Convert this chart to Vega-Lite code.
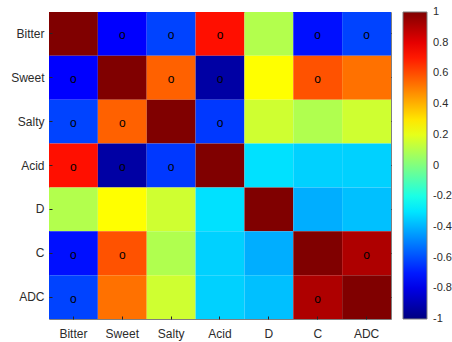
{
  "$schema": "https://vega.github.io/schema/vega-lite/v6.json",
  "width": 342,
  "height": 307,
  "autosize": {"type": "none"},
  "padding": {"left": 49, "top": 12, "right": 61, "bottom": 23},
  "config": {
    "view": {"stroke": "#7f7f7f", "strokeWidth": 1},
    "font": "Liberation Sans",
    "axis": {
      "labelFont": "Liberation Sans",
      "labelFontSize": 12,
      "labelColor": "#2b2b2b",
      "domain": false,
      "grid": false,
      "tickColor": "#262626",
      "tickSize": -3,
      "tickWidth": 1,
      "title": null
    },
    "legend": {
      "labelFont": "Liberation Sans",
      "labelFontSize": 11,
      "labelColor": "#2b2b2b",
      "padding": 0
    }
  },
  "datasets": {
    "corr": [
      {"row": "Bitter", "col": "Bitter", "v": 1, "sig": false},
      {"row": "Bitter", "col": "Sweet", "v": -0.75, "sig": true},
      {"row": "Bitter", "col": "Salty", "v": -0.62, "sig": true},
      {"row": "Bitter", "col": "Acid", "v": 0.72, "sig": true},
      {"row": "Bitter", "col": "D", "v": 0.1, "sig": false},
      {"row": "Bitter", "col": "C", "v": -0.72, "sig": true},
      {"row": "Bitter", "col": "ADC", "v": -0.62, "sig": true},
      {"row": "Sweet", "col": "Bitter", "v": -0.75, "sig": true},
      {"row": "Sweet", "col": "Sweet", "v": 1, "sig": false},
      {"row": "Sweet", "col": "Salty", "v": 0.56, "sig": true},
      {"row": "Sweet", "col": "Acid", "v": -0.93, "sig": true},
      {"row": "Sweet", "col": "D", "v": 0.25, "sig": false},
      {"row": "Sweet", "col": "C", "v": 0.59, "sig": true},
      {"row": "Sweet", "col": "ADC", "v": 0.53, "sig": false},
      {"row": "Salty", "col": "Bitter", "v": -0.62, "sig": true},
      {"row": "Salty", "col": "Sweet", "v": 0.56, "sig": true},
      {"row": "Salty", "col": "Salty", "v": 1, "sig": false},
      {"row": "Salty", "col": "Acid", "v": -0.64, "sig": true},
      {"row": "Salty", "col": "D", "v": 0.155, "sig": false},
      {"row": "Salty", "col": "C", "v": 0.095, "sig": false},
      {"row": "Salty", "col": "ADC", "v": 0.155, "sig": false},
      {"row": "Acid", "col": "Bitter", "v": 0.72, "sig": true},
      {"row": "Acid", "col": "Sweet", "v": -0.93, "sig": true},
      {"row": "Acid", "col": "Salty", "v": -0.64, "sig": true},
      {"row": "Acid", "col": "Acid", "v": 1, "sig": false},
      {"row": "Acid", "col": "D", "v": -0.31, "sig": false},
      {"row": "Acid", "col": "C", "v": -0.34, "sig": false},
      {"row": "Acid", "col": "ADC", "v": -0.34, "sig": false},
      {"row": "D", "col": "Bitter", "v": 0.1, "sig": false},
      {"row": "D", "col": "Sweet", "v": 0.25, "sig": false},
      {"row": "D", "col": "Salty", "v": 0.155, "sig": false},
      {"row": "D", "col": "Acid", "v": -0.31, "sig": false},
      {"row": "D", "col": "D", "v": 1, "sig": false},
      {"row": "D", "col": "C", "v": -0.41, "sig": false},
      {"row": "D", "col": "ADC", "v": -0.375, "sig": false},
      {"row": "C", "col": "Bitter", "v": -0.72, "sig": true},
      {"row": "C", "col": "Sweet", "v": 0.59, "sig": true},
      {"row": "C", "col": "Salty", "v": 0.095, "sig": false},
      {"row": "C", "col": "Acid", "v": -0.34, "sig": false},
      {"row": "C", "col": "D", "v": -0.41, "sig": false},
      {"row": "C", "col": "C", "v": 1, "sig": false},
      {"row": "C", "col": "ADC", "v": 0.91, "sig": true},
      {"row": "ADC", "col": "Bitter", "v": -0.62, "sig": true},
      {"row": "ADC", "col": "Sweet", "v": 0.53, "sig": false},
      {"row": "ADC", "col": "Salty", "v": 0.155, "sig": false},
      {"row": "ADC", "col": "Acid", "v": -0.34, "sig": false},
      {"row": "ADC", "col": "D", "v": -0.375, "sig": false},
      {"row": "ADC", "col": "C", "v": 0.91, "sig": true},
      {"row": "ADC", "col": "ADC", "v": 1, "sig": false}
    ]
  },
  "data": {"name": "corr"},
  "resolve": {"axis": {"x": "independent", "y": "independent"}},
  "layer": [
    {
      "mark": {"type": "rect", "strokeWidth": 0},
      "encoding": {
        "x": {
          "field": "col", "type": "nominal",
          "sort": ["Bitter", "Sweet", "Salty", "Acid", "D", "C", "ADC"],
          "scale": {"paddingInner": 0, "paddingOuter": 0},
          "axis": {"orient": "bottom", "labelAngle": 0, "labelPadding": 12}
        },
        "y": {
          "field": "row", "type": "nominal",
          "sort": ["Bitter", "Sweet", "Salty", "Acid", "D", "C", "ADC"],
          "scale": {"paddingInner": 0, "paddingOuter": 0},
          "axis": {"orient": "left", "labelPadding": 8}
        },
        "color": {
          "field": "v", "type": "quantitative",
          "scale": {
            "domain": [-1, 1],
            "range": ["#000080", "#0000ff", "#0080ff", "#00ffff", "#80ff80", "#ffff00", "#ff8000", "#ff0000", "#800000"],
            "interpolate": "rgb"
          },
          "legend": {
            "title": null,
            "direction": "vertical",
            "orient": "right",
            "offset": 11,
            "gradientLength": 307,
            "gradientThickness": 24,
            "gradientStrokeColor": "#7f7f7f",
            "gradientStrokeWidth": 1,
            "values": [-1, -0.8, -0.6, -0.4, -0.2, 0, 0.2, 0.4, 0.6, 0.8, 1],
            "labelExpr": "'' + datum.value",
            "labelBaseline": "middle",
            "labelOffset": 6,
            "labelOverlap": false,
            "encode": {"labels": {"update": {"baseline": {"value": "middle"}}}}
          }
        }
      }
    },
    {
      "transform": [{"filter": "datum.sig"}],
      "mark": {"type": "text", "text": "o", "fontSize": 12, "color": "#000000", "baseline": "middle", "align": "center", "dy": 1.5, "font": "Liberation Sans"},
      "encoding": {
        "x": {
          "field": "col", "type": "nominal",
          "sort": ["Bitter", "Sweet", "Salty", "Acid", "D", "C", "ADC"],
          "axis": {"orient": "top", "labels": false}
        },
        "y": {
          "field": "row", "type": "nominal",
          "sort": ["Bitter", "Sweet", "Salty", "Acid", "D", "C", "ADC"],
          "axis": {"orient": "right", "labels": false}
        }
      }
    }
  ]
}
